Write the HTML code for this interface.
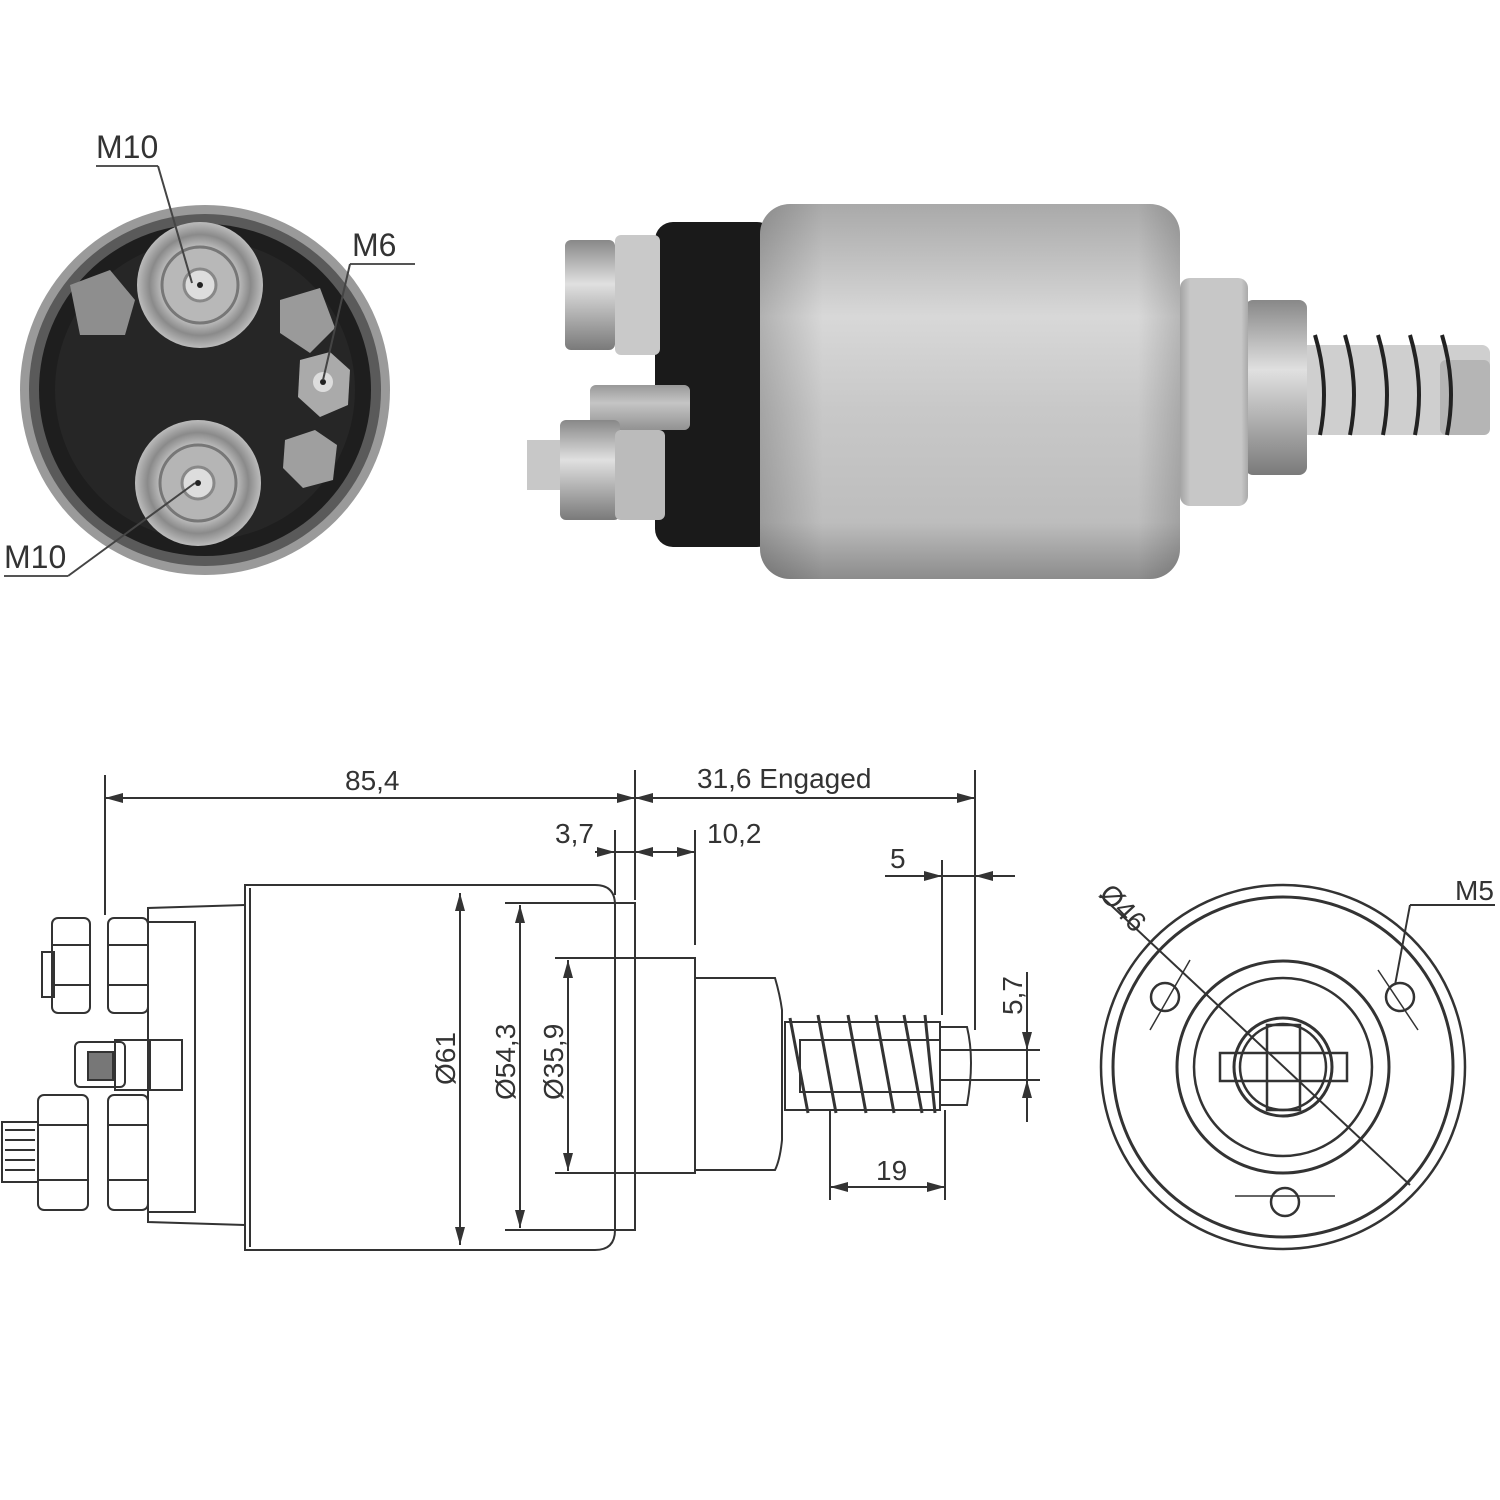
<!DOCTYPE html>
<html><head><meta charset="utf-8"><style>
html,body{margin:0;padding:0;background:#fff;}
svg{display:block;}
text{font-family:"Liberation Sans",sans-serif;fill:#333;}
</style></head><body>
<svg width="1500" height="1500" viewBox="0 0 1500 1500" xmlns="http://www.w3.org/2000/svg">
<defs>
<linearGradient id="body" x1="0" y1="0" x2="0" y2="1">
<stop offset="0" stop-color="#a9a9a9"/><stop offset="0.3" stop-color="#d8d8d8"/><stop offset="0.55" stop-color="#c8c8c8"/><stop offset="0.85" stop-color="#bdbdbd"/><stop offset="1" stop-color="#8c8c8c"/></linearGradient>
<linearGradient id="bodyh" x1="0" y1="0" x2="1" y2="0">
<stop offset="0" stop-color="#000" stop-opacity="0.18"/><stop offset="0.15" stop-color="#000" stop-opacity="0"/><stop offset="0.9" stop-color="#000" stop-opacity="0"/><stop offset="1" stop-color="#000" stop-opacity="0.15"/></linearGradient>
<linearGradient id="met" x1="0" y1="0" x2="0" y2="1">
<stop offset="0" stop-color="#888"/><stop offset="0.4" stop-color="#e0e0e0"/><stop offset="1" stop-color="#7a7a7a"/></linearGradient>
<radialGradient id="term" cx="0.5" cy="0.5" r="0.5">
<stop offset="0" stop-color="#eee"/><stop offset="0.3" stop-color="#999"/><stop offset="0.55" stop-color="#ccc"/><stop offset="0.8" stop-color="#8a8a8a"/><stop offset="1" stop-color="#bbb"/></radialGradient>
</defs>

<!-- ===== TOP LEFT END VIEW ===== -->
<circle cx="205" cy="390" r="185" fill="#9a9a9a"/>
<circle cx="205" cy="390" r="176" fill="#5a5a5a"/>
<circle cx="205" cy="390" r="166" fill="#1e1e1e"/>
<circle cx="205" cy="390" r="150" fill="#262626"/>
<path d="M70 285 l40 -15 l25 30 l-10 35 l-45 0 z" fill="#8e8e8e"/>
<path d="M280 300 l40 -12 l15 40 l-25 25 l-30 -20 z" fill="#9a9a9a"/>
<circle cx="200" cy="285" r="63" fill="url(#term)"/>
<circle cx="200" cy="285" r="38" fill="#b8b8b8" stroke="#777" stroke-width="3"/>
<circle cx="200" cy="285" r="16" fill="#ddd" stroke="#888" stroke-width="3"/>
<circle cx="200" cy="285" r="3" fill="#222"/>
<circle cx="198" cy="483" r="63" fill="url(#term)"/>
<circle cx="198" cy="483" r="38" fill="#b5b5b5" stroke="#777" stroke-width="3"/>
<circle cx="198" cy="483" r="16" fill="#ddd" stroke="#888" stroke-width="3"/>
<circle cx="198" cy="483" r="3" fill="#222"/>
<path d="M300 360 l30 -8 l20 18 l-2 35 l-28 12 l-22 -20 z" fill="#aaa"/>
<circle cx="323" cy="382" r="10" fill="#ddd"/><circle cx="323" cy="382" r="3" fill="#222"/>
<path d="M285 440 l30 -10 l22 15 l-4 35 l-30 8 l-20 -20 z" fill="#9f9f9f"/>
<text x="96" y="158" font-size="32">M10</text>
<line x1="96" y1="166" x2="158" y2="166" stroke="#555" stroke-width="2"/>
<line x1="158" y1="166" x2="192" y2="283" stroke="#444" stroke-width="2"/>
<text x="352" y="256" font-size="32">M6</text>
<line x1="350" y1="264" x2="415" y2="264" stroke="#555" stroke-width="2"/>
<line x1="350" y1="264" x2="323" y2="380" stroke="#444" stroke-width="2"/>
<text x="4" y="568" font-size="32">M10</text>
<line x1="4" y1="576" x2="68" y2="576" stroke="#555" stroke-width="2"/>
<line x1="68" y1="576" x2="195" y2="483" stroke="#444" stroke-width="2"/>

<!-- ===== TOP RIGHT SIDE PHOTO ===== -->
<rect x="1300" y="345" width="190" height="90" rx="8" fill="#cfcfcf"/>
<rect x="1440" y="360" width="50" height="75" rx="6" fill="#b5b5b5"/>
<g fill="none" stroke="#222" stroke-width="4">
<path d="M1315 335 q15 50 5 100 M1345 335 q15 50 5 100 M1378 335 q15 50 5 100 M1410 335 q15 50 5 100 M1442 335 q15 50 5 100"/>
</g>
<rect x="1245" y="300" width="62" height="175" rx="8" fill="url(#met)"/>
<rect x="1180" y="278" width="68" height="228" rx="10" fill="#c7c7c7"/>
<rect x="1180" y="278" width="68" height="228" rx="10" fill="url(#bodyh)"/>
<rect x="655" y="222" width="120" height="325" rx="18" fill="#1a1a1a"/>
<rect x="760" y="204" width="420" height="375" rx="30" fill="url(#body)"/>
<rect x="760" y="204" width="420" height="375" rx="30" fill="url(#bodyh)"/>
<rect x="565" y="240" width="50" height="110" rx="6" fill="url(#met)"/>
<rect x="615" y="235" width="45" height="120" rx="6" fill="#c9c9c9"/>
<rect x="590" y="385" width="100" height="45" rx="6" fill="#aaa"/>
<rect x="590" y="385" width="100" height="45" rx="6" fill="url(#met)" opacity="0.5"/>
<rect x="527" y="440" width="40" height="50" fill="#c8c8c8"/>
<rect x="560" y="420" width="60" height="100" rx="6" fill="url(#met)"/>
<rect x="615" y="430" width="50" height="90" rx="6" fill="#bbb"/>

<!-- ===== BOTTOM LEFT DRAWING ===== -->
<g fill="none" stroke="#333" stroke-width="2">
<line x1="105" y1="775" x2="105" y2="915"/>
<line x1="635" y1="770" x2="635" y2="900"/>
<line x1="975" y1="770" x2="975" y2="1030"/>
<line x1="615" y1="830" x2="615" y2="895"/>
<line x1="695" y1="830" x2="695" y2="945"/>
<line x1="942" y1="860" x2="942" y2="1015"/>
<path d="M245 885 L595 885 Q615 885 615 905 L615 1230 Q615 1250 595 1250 L245 1250 Z"/>
<line x1="250" y1="888" x2="250" y2="1247"/>
<path d="M245 905 L148 908 L148 1222 L245 1225"/>
<rect x="148" y="922" width="47" height="290"/>
<rect x="615" y="903" width="20" height="327"/>
<line x1="505" y1="903" x2="615" y2="903"/><line x1="505" y1="1230" x2="615" y2="1230"/>
<rect x="635" y="958" width="60" height="215"/>
<line x1="555" y1="958" x2="635" y2="958"/><line x1="555" y1="1173" x2="635" y2="1173"/>
<path d="M695 978 L775 978 Q780 995 782 1010 L782 1140 Q780 1160 775 1170 L695 1170 Z"/>
<rect x="785" y="1022" width="155" height="88"/>
<rect x="800" y="1040" width="140" height="52"/>
<path d="M940 1027 L967 1027 Q975 1060 967 1105 L940 1105 Z"/>
<line x1="940" y1="1050" x2="1040" y2="1050"/><line x1="940" y1="1080" x2="1040" y2="1080"/>
<g stroke-width="3">
<path d="M790 1018 l18 95 M818 1015 l18 98 M848 1015 l18 98 M876 1015 l18 98 M904 1015 l18 98 M925 1015 l10 98"/>
</g>
<rect x="52" y="918" width="38" height="95" rx="6"/>
<rect x="108" y="918" width="40" height="95" rx="6"/>
<line x1="52" y1="945" x2="90" y2="945"/><line x1="52" y1="985" x2="90" y2="985"/>
<line x1="108" y1="945" x2="148" y2="945"/><line x1="108" y1="985" x2="148" y2="985"/>
<rect x="42" y="952" width="12" height="45"/>
<rect x="75" y="1042" width="50" height="45" rx="5"/>
<rect x="88" y="1052" width="25" height="28" fill="#777"/>
<rect x="115" y="1040" width="35" height="50"/><rect x="150" y="1040" width="32" height="50"/>
<rect x="38" y="1095" width="50" height="115" rx="6"/>
<rect x="108" y="1095" width="40" height="115" rx="6"/>
<line x1="38" y1="1125" x2="88" y2="1125"/><line x1="38" y1="1180" x2="88" y2="1180"/>
<line x1="108" y1="1125" x2="148" y2="1125"/><line x1="108" y1="1180" x2="148" y2="1180"/>
<rect x="2" y="1122" width="36" height="60"/>
<path d="M5 1130 h30 M5 1140 h30 M5 1150 h30 M5 1160 h30 M5 1170 h30"/>
<line x1="105" y1="798" x2="975" y2="798"/>
<line x1="595" y1="852" x2="695" y2="852"/>
<line x1="885" y1="876" x2="1015" y2="876"/>
<line x1="460" y1="893" x2="460" y2="1245"/>
<line x1="520" y1="905" x2="520" y2="1228"/>
<line x1="568" y1="960" x2="568" y2="1171"/>
<line x1="1027" y1="972" x2="1027" y2="1122"/>
<line x1="830" y1="1110" x2="830" y2="1200"/><line x1="945" y1="1110" x2="945" y2="1200"/>
<line x1="830" y1="1187" x2="945" y2="1187"/>
</g>
<g fill="#333">
<path d="M105 798 l18 -5 v10 z M635 798 l-18 -5 v10 z M635 798 l18 -5 v10 z M975 798 l-18 -5 v10 z"/>
<path d="M615 852 l-18 -5 v10 z M635 852 l18 -5 v10 z M695 852 l-18 -5 v10 z"/>
<path d="M942 876 l-18 -5 v10 z M975 876 l18 -5 v10 z"/>
<path d="M460 893 l-5 18 h10 z M460 1245 l-5 -18 h10 z M520 905 l-5 18 h10 z M520 1228 l-5 -18 h10 z M568 960 l-5 18 h10 z M568 1171 l-5 -18 h10 z"/>
<path d="M1027 1050 l-5 -18 h10 z M1027 1080 l-5 18 h10 z"/>
<path d="M830 1187 l18 -5 v10 z M945 1187 l-18 -5 v10 z"/>
</g>
<text x="345" y="790" font-size="28">85,4</text>
<text x="697" y="788" font-size="28">31,6 Engaged</text>
<text x="555" y="843" font-size="28">3,7</text>
<text x="707" y="843" font-size="28">10,2</text>
<text x="890" y="868" font-size="28">5</text>
<text x="876" y="1180" font-size="28">19</text>
<text font-size="28" transform="translate(455,1085) rotate(-90)">Ø61</text>
<text font-size="28" transform="translate(515,1100) rotate(-90)">Ø54,3</text>
<text font-size="28" transform="translate(563,1100) rotate(-90)">Ø35,9</text>
<text font-size="28" transform="translate(1022,1015) rotate(-90)">5,7</text>

<!-- ===== BOTTOM RIGHT END VIEW ===== -->
<g fill="none" stroke="#333" stroke-width="2.5">
<circle cx="1283" cy="1067" r="182"/>
<circle cx="1283" cy="1067" r="170" stroke-width="3"/>
<circle cx="1283" cy="1067" r="106" stroke-width="3"/>
<circle cx="1283" cy="1067" r="89"/>
<circle cx="1283" cy="1067" r="49" stroke-width="3"/>
<circle cx="1283" cy="1067" r="43"/>
<rect x="1220" y="1053" width="127" height="28"/>
<rect x="1267" y="1025" width="33" height="85"/>
<circle cx="1165" cy="997" r="14"/>
<circle cx="1400" cy="997" r="14"/>
<circle cx="1285" cy="1202" r="14"/>
<line x1="1100" y1="895" x2="1410" y2="1185" stroke-width="2"/>
<line x1="1410" y1="905" x2="1395" y2="985" stroke-width="2"/>
<line x1="1410" y1="905" x2="1495" y2="905" stroke-width="2"/>
<path d="M1190 960 l-40 70 M1378 970 l40 60 M1235 1196 h100" stroke-width="1.5"/>
</g>
<text font-size="28" transform="translate(1098,895) rotate(47)">Ø46</text>
<text x="1455" y="900" font-size="28">M5</text>
</svg>
</body></html>
